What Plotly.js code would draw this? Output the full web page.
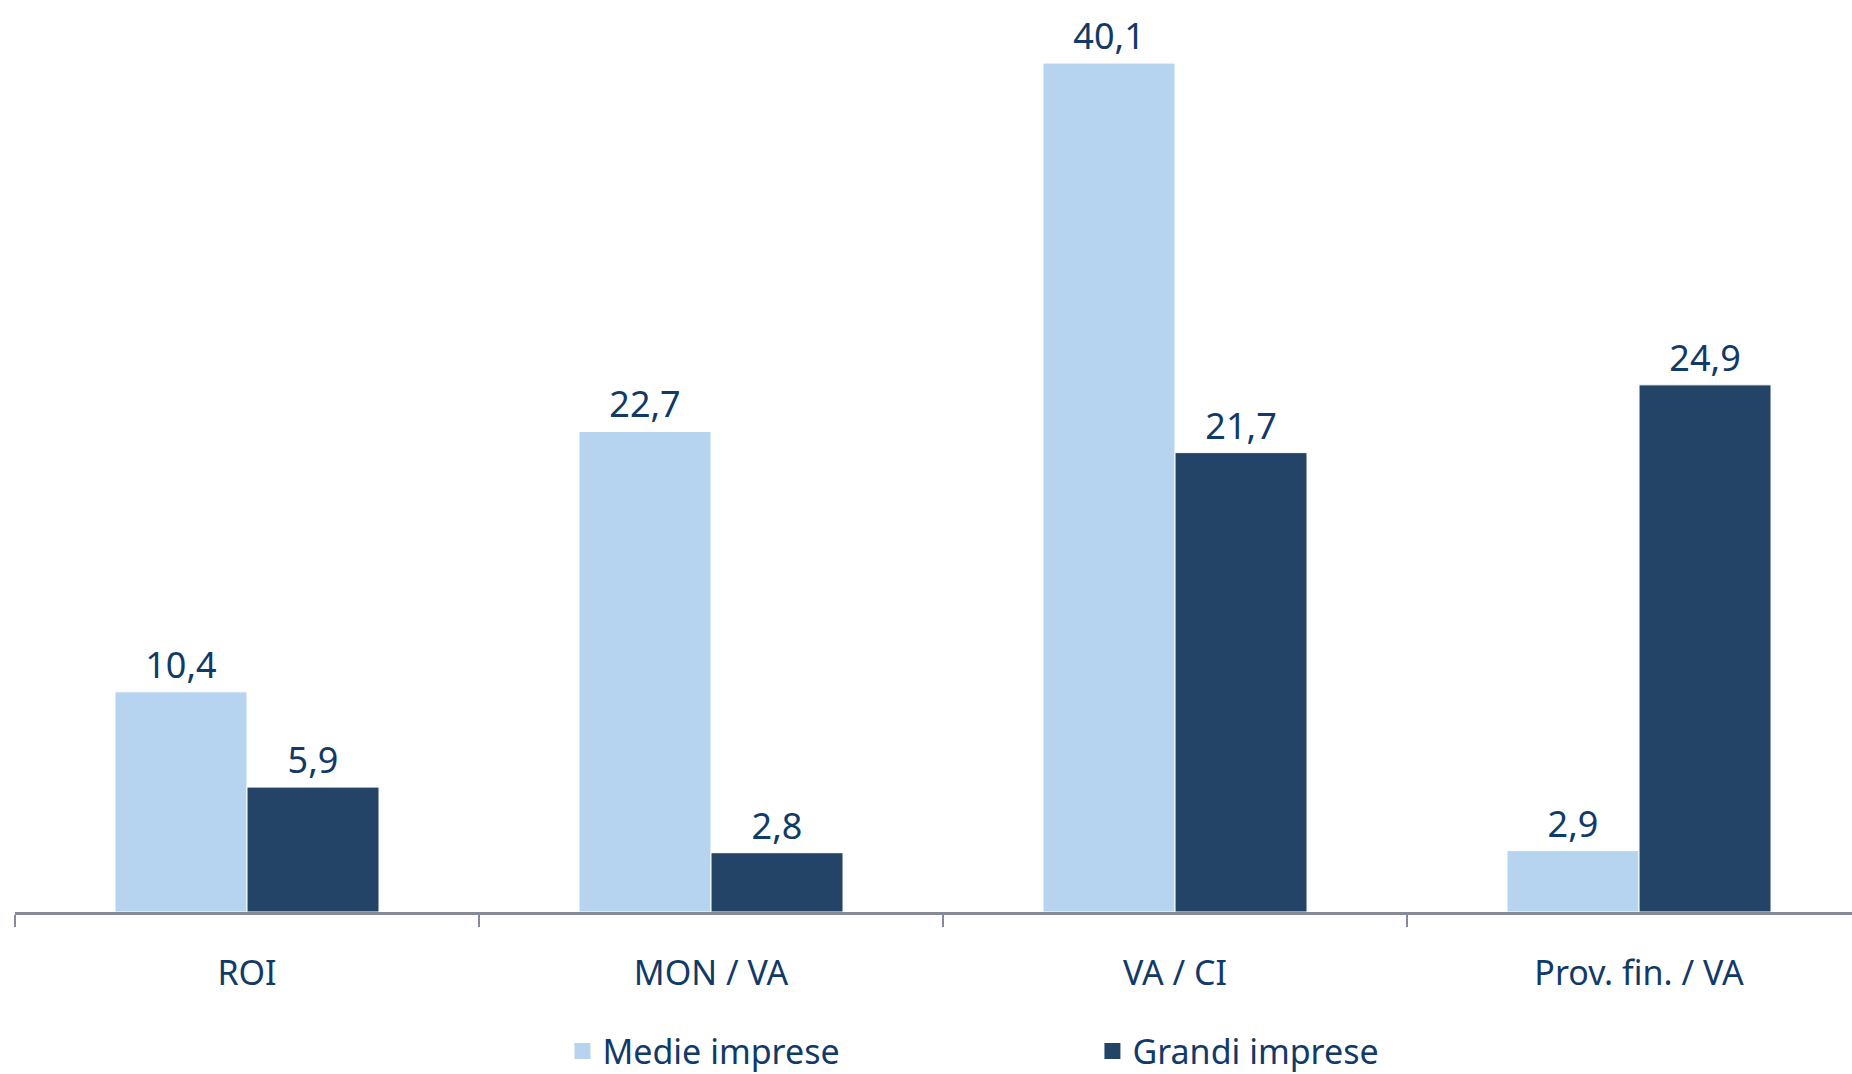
<!DOCTYPE html>
<html>
<head>
<meta charset="utf-8">
<script src="https://cdn.plot.ly/plotly-3.0.1.min.js"></script>
<style>html,body{margin:0;padding:0;background:#fff;}#chart{width:1852px;height:1074px;}</style>
</head>
<body>
<div id="chart"></div>
<script>
const categories = ["ROI", "MON / VA", "VA / CI", "Prov. fin. / VA"];
const medieImprese = [10.4, 22.7, 40.1, 2.9];
const grandiImprese = [5.9, 2.8, 21.7, 24.9];
const seriesNames = ["Medie imprese", "Grandi imprese"];
const seriesColors = ["#b6d3ef", "#244467"];

const textColor = "#113a68";
const fontFam = "'Noto Sans', 'Open Sans', sans-serif";

const barTraces = [medieImprese, grandiImprese].map((vals, i) => ({
  type: "bar", name: seriesNames[i], x: categories, y: vals,
  showlegend: false,
  marker: {color: seriesColors[i], line: {color: "#ffffff", width: 1}},
  texttemplate: "%{y:.1f}", textposition: "outside", cliponaxis: false,
  textfont: {family: fontFam, size: 36, color: textColor}
}));

// legend-only entries (bigger square swatches, as in the reference)
const legendTraces = seriesNames.map((n, i) => ({
  type: "scatter", mode: "markers", name: n, x: [null], y: [null],
  marker: {symbol: "square", size: 17, color: seriesColors[i]},
  showlegend: true, hoverinfo: "skip"
}));

const layout = {
  width: 1852, height: 1074,
  margin: {l: 15, r: 0, t: 0, b: 162, autoexpand: false},
  paper_bgcolor: "#ffffff", plot_bgcolor: "#ffffff",
  separators: ",.",
  barmode: "group", bargap: 0.431, bargroupgap: 0,
  font: {family: fontFam, color: textColor},
  xaxis: {
    type: "category", range: [-0.5, 3.459],
    showline: true, linecolor: "#868b99", linewidth: 3,
    ticks: "outside", tickson: "boundaries", ticklen: 12, tickwidth: 2, tickcolor: "#868b99",
    tickfont: {family: fontFam, size: 34, color: textColor},
    ticklabelstandoff: 29,
    showgrid: false, zeroline: false, automargin: false
  },
  yaxis: {
    range: [0, 43.08], visible: false, showgrid: false, zeroline: false, automargin: false
  },
  showlegend: true,
  legend: {
    orientation: "h", x: 0.298, xanchor: "left", y: -0.121, yanchor: "top",
    entrywidth: 485, entrywidthmode: "pixels",
    font: {family: fontFam, size: 34, color: textColor},
    itemclick: false, traceorder: "normal"
  }
};

Plotly.newPlot("chart", barTraces.concat(legendTraces), layout, {displayModeBar: false, staticPlot: true});
</script>
</body>
</html>
